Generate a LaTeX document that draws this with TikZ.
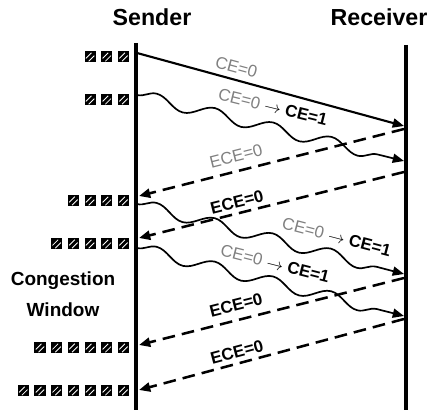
\documentclass[tikz,border=0pt]{standalone}
\usepackage{fontspec}
\setmainfont{Liberation Sans}
\usetikzlibrary{arrows.meta,decorations.pathmorphing}

\definecolor{faded}{gray}{0.5}

\tikzset{
    life/.style={line width=3.4pt},
    tip/.style={-{Triangle[length=8pt,width=6.5pt]}},
    pkt/.style={tip, line width=1.5pt},
    wave/.style={tip, line width=1.2pt, decorate,
        decoration={snake, amplitude=0.15cm, segment length=1.5cm, post length=8pt}},
    ack/.style={tip, line width=1.8pt, dash pattern=on 9pt off 5pt},
    wbox/.style={fill=black, inner sep=0pt, minimum size=0.275cm,
        path picture={\draw[white, line width=0.6pt]
            ([shift={(-3pt,-1pt)}]path picture bounding box.center) -- ([shift={(1pt,3pt)}]path picture bounding box.center)
            ([shift={(-1pt,-3pt)}]path picture bounding box.center) -- ([shift={(3pt,1pt)}]path picture bounding box.center);}},
    head/.style={anchor=base, font=\bfseries\fontsize{16.5}{20}\selectfont},
    side/.style={anchor=base, font=\bfseries\fontsize{13.5}{16}\selectfont},
    lbl/.style={sloped, inner sep=1pt, font=\bfseries\fontsize{12}{14}\selectfont},
    old/.style={sloped, inner sep=1pt, text=faded, font=\fontsize{12}{14}\selectfont},
}

\begin{document}
\begin{tikzpicture}[x=0.025cm, y=-0.025cm]
    \useasboundingbox (0,0) rectangle (430,412);

    % Headings
    \node[head] (sender) at (152,26) {Sender};
    \node[head] (receiver) at (379,26) {Receiver};
    \node[side] (cong) at (63,286) {Congestion};
    \node[side] (win) at (63,317) {Window};

    % Time lines
    \coordinate (stop) at (136,43);
    \coordinate (sbot) at (136,410);
    \coordinate (rtop) at (406,45);
    \coordinate (rbot) at (406,410);
    \draw[life] (stop) -- (sbot);
    \draw[life] (rtop) -- (rbot);

    % Window sizes
    \foreach \n/\y [count=\r] in {3/57, 3/100, 4/201, 5/244, 6/348, 7/391}
        \foreach \i in {1,...,\n}
            \node[wbox] (w\r-\i) at ({123.5-(\i-1)*16.7},\y) {};

    % Ends of the packets and acks
    \coordinate (s1) at (137,53);  \coordinate (r1) at (404,126);
    \coordinate (s2) at (137,95);  \coordinate (r2) at (404,161);
    \coordinate (r3) at (404,129); \coordinate (s3) at (139,196);
    \coordinate (r4) at (404,172); \coordinate (s4) at (139,238);
    \coordinate (s5) at (137,204); \coordinate (r5) at (404,274);
    \coordinate (s6) at (137,248); \coordinate (r6) at (404,316);
    \coordinate (r7) at (404,278); \coordinate (s7) at (139,345);
    \coordinate (r8) at (404,319); \coordinate (s8) at (139,390);

    % Data packets
    \draw[pkt] (s1) -- (r1) node[old, pos=.36, above=3pt] {CE=0};
    \draw[wave] (s2) -- (r2) node[lbl, pos=.49, above=9pt] {\textcolor{faded}{\mdseries CE=0} $\rightarrow$ CE=1};
    \draw[wave] (s5) -- (r5) node[lbl, pos=.73, above=7.5pt] {\textcolor{faded}{\mdseries CE=0} $\rightarrow$ CE=1};
    \draw[wave] (s6) -- (r6) node[lbl, pos=.5, above=7.5pt] {\textcolor{faded}{\mdseries CE=0} $\rightarrow$ CE=1};

    % Acks
    \draw[ack] (r3) -- (s3) node[old, pos=.62, above=4.6pt] {ECE=0};
    \draw[ack] (r4) -- (s4) node[lbl, pos=.62, above=1.8pt] {ECE=0};
    \draw[ack] (r7) -- (s7) node[lbl, pos=.62, above=4.6pt] {ECE=0};
    \draw[ack] (r8) -- (s8) node[lbl, pos=.62, above=1.8pt] {ECE=0};
\end{tikzpicture}
\end{document}
